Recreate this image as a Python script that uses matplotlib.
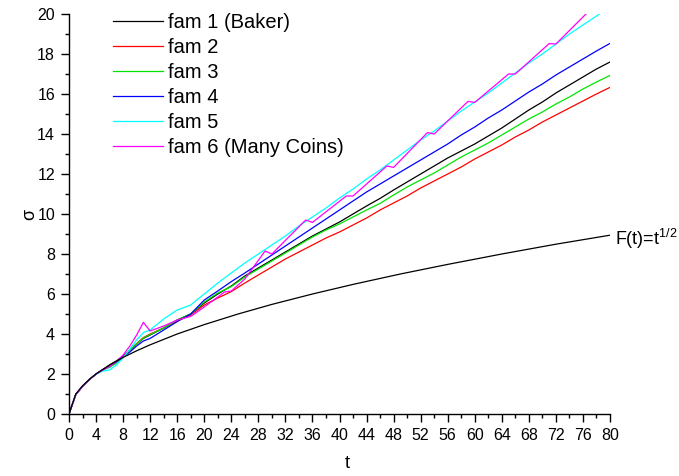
import matplotlib
matplotlib.use("Agg")
import matplotlib.pyplot as plt
from matplotlib.ticker import MultipleLocator

plt.rcParams['font.family'] = ['Liberation Sans', 'DejaVu Sans']
plt.rcParams['mathtext.default'] = 'regular'

# ---- data ----
t_common = [0, 1, 2, 3, 4, 5, 6, 7, 8, 9, 10, 11, 12,
            14, 16, 18, 20, 22, 24, 26, 28, 30, 32, 34, 36, 38, 40,
            42, 44, 46, 48, 50, 52, 54, 56, 58, 60, 62, 64, 66, 68,
            70, 72, 74, 76, 78, 80]

fam1 = [0, 0.97, 1.38, 1.72, 2.0, 2.22, 2.45, 2.65, 2.9, 3.2, 3.5, 3.78, 3.95,
        4.3, 4.7, 5.0, 5.55, 6.0, 6.4, 6.9, 7.3, 7.7, 8.1, 8.5, 8.9, 9.25, 9.6,
        10.0, 10.4, 10.78, 11.2, 11.6, 12.0, 12.4, 12.8, 13.15, 13.5, 13.9, 14.3, 14.75, 15.2,
        15.6, 16.05, 16.45, 16.85, 17.25, 17.6]
fam2 = [0, 0.97, 1.38, 1.72, 2.0, 2.22, 2.42, 2.62, 2.88, 3.2, 3.52, 3.82, 4.0,
        4.3, 4.65, 4.95, 5.45, 5.8, 6.12, 6.55, 6.95, 7.35, 7.75, 8.1, 8.45, 8.8, 9.1,
        9.45, 9.8, 10.2, 10.55, 10.9, 11.3, 11.65, 12.0, 12.35, 12.75, 13.1, 13.45, 13.85, 14.2,
        14.6, 14.95, 15.3, 15.65, 16.0, 16.33]
fam3 = [0, 0.97, 1.38, 1.72, 2.0, 2.2, 2.33, 2.55, 2.85, 3.2, 3.5, 3.8, 3.97,
        4.3, 4.7, 5.0, 5.6, 6.05, 6.37, 6.85, 7.25, 7.65, 8.05, 8.45, 8.85, 9.2, 9.5,
        9.85, 10.2, 10.53, 10.95, 11.35, 11.7, 12.05, 12.45, 12.85, 13.2, 13.55, 13.95, 14.35, 14.75,
        15.1, 15.5, 15.85, 16.25, 16.6, 16.93]
fam4 = [0, 0.97, 1.38, 1.72, 2.0, 2.22, 2.4, 2.6, 2.85, 3.1, 3.4, 3.65, 3.78,
        4.2, 4.62, 5.0, 5.7, 6.15, 6.62, 7.05, 7.5, 7.95, 8.4, 8.85, 9.3, 9.75, 10.2,
        10.65, 11.1, 11.5, 11.9, 12.3, 12.7, 13.1, 13.5, 13.95, 14.35, 14.8, 15.2, 15.65, 16.1,
        16.5, 16.95, 17.35, 17.75, 18.15, 18.53]
fam5 = [0, 0.97, 1.38, 1.72, 2.0, 2.15, 2.2, 2.45, 2.8, 3.25, 3.7, 4.07, 4.2,
        4.75, 5.2, 5.45, 6.0, 6.55, 7.05, 7.55, 8.0, 8.45, 8.9, 9.4, 9.85, 10.3, 10.8,
        11.25, 11.75, 12.2, 12.7, 13.2, 13.7, 14.15, 14.65, 15.15, 15.6, 16.05, 16.55, 17.05, 17.55,
        18.0, 18.5, 19.0, 19.45, 19.9, 20.35]

t_fam6 = [0, 1, 2, 3, 4, 5, 6, 7, 8, 9, 10, 11, 12, 14, 16, 18, 20, 22, 23, 24, 26,
          29, 30, 35, 36, 41, 42, 47, 48, 53, 54, 59, 60, 65, 66, 71, 72, 80]
fam6 = [0, 0.97, 1.38, 1.72, 2.0, 2.2, 2.38, 2.62, 2.95, 3.4, 3.95, 4.58, 4.15, 4.4, 4.7, 4.88,
        5.35, 5.85, 6.1, 6.15, 6.75, 8.15, 8.0, 9.7, 9.58, 10.9, 10.9, 12.4, 12.33, 14.07, 14.0,
        15.63, 15.58, 17.0, 17.0, 18.52, 18.5, 21.2]

t_ref = [0, 1, 2, 3, 4, 6, 8, 10, 12, 16, 20, 25, 30, 36, 42, 49, 56, 64, 72, 80]
f_ref = [0, 1.0, 1.41, 1.73, 2.0, 2.45, 2.83, 3.16, 3.46, 4.0, 4.47, 5.0, 5.48, 6.0,
         6.48, 7.0, 7.48, 8.0, 8.49, 8.94]

labels = ['fam 1 (Baker)', 'fam 2', 'fam 3', 'fam 4', 'fam 5', 'fam 6 (Many Coins)']
colors = ['#000000', '#ff0000', '#00e600', '#0000ff', '#00ffff', '#ff00ff']

fig = plt.figure(figsize=(6.79, 4.76), dpi=100)
ax = fig.add_axes([69 / 679, 1 - 414 / 476, 541 / 679, 400 / 476])

series = [(t_common, fam1), (t_common, fam2), (t_common, fam3),
          (t_common, fam4), (t_common, fam5), (t_fam6, fam6)]
for (tt, ss), lab, c in zip(series, labels, colors):
    ax.plot(tt, ss, color=c, lw=0.9, label=lab)
ax.plot(t_ref, f_ref, color='black', lw=0.9)

ax.set_xlim(0, 80)
ax.set_ylim(0, 20)
ax.xaxis.set_major_locator(MultipleLocator(4))
ax.xaxis.set_minor_locator(MultipleLocator(2))
ax.yaxis.set_major_locator(MultipleLocator(2))
ax.yaxis.set_minor_locator(MultipleLocator(1))
for s in ['top', 'right']:
    ax.spines[s].set_visible(False)
for s in ['left', 'bottom']:
    ax.spines[s].set_linewidth(1.0)
ax.tick_params(which='major', direction='out', length=6, width=1.0, labelsize=11.5, pad=4)
ax.tick_params(which='minor', direction='out', length=3, width=1.0)

ax.set_xlabel('t', fontsize=13)
ax.set_ylabel('σ', fontsize=13, rotation=90)
ax.xaxis.set_label_coords(0.515, -0.125)
ax.xaxis.label.set_va('center')
ax.yaxis.set_label_coords(-0.072, 0.5)
ax.yaxis.label.set_va('center')

ax.text(80.7, 8.75, 'F(t)=t$^{1/2}$', fontsize=13, va='center', ha='left', clip_on=False)

ax.legend(loc='upper left', bbox_to_anchor=(113 / 679, 1 - 13 / 476),
          bbox_transform=fig.transFigure, frameon=False, fontsize=14.5,
          handlelength=2.5, handletextpad=0.25, labelspacing=0.3, borderpad=0,
          borderaxespad=0)

fig.savefig('out.png', dpi=100)
